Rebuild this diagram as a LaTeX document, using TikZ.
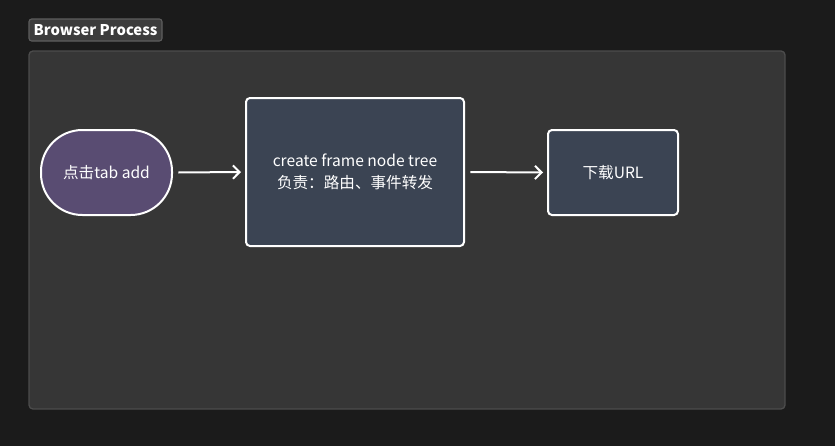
\documentclass[tikz,border=0pt]{standalone}
\usepackage{fontspec}
\setmainfont{Noto Sans CJK SC}
\usetikzlibrary{arrows.meta,positioning}
\definecolor{pagebg}{HTML}{1B1B1B}
\definecolor{panelbg}{HTML}{363636}
\definecolor{panelline}{HTML}{4C4C4C}
\definecolor{tagbg}{HTML}{3C3C3C}
\definecolor{tagline}{HTML}{5E5E5E}
\definecolor{startfill}{HTML}{594C72}
\definecolor{boxfill}{HTML}{3B4453}
\tikzset{
  px/.style={x=0.75pt,y=-0.75pt},
  nodetext/.style={text=white,font=\fontsize{11.7}{17}\selectfont,align=center},
  stepbox/.style={draw=white,line width=1.5pt,fill=boxfill,rounded corners=3pt,nodetext,inner sep=0pt},
  startbox/.style={draw=white,line width=1.5pt,fill=startfill,rounded corners=31pt,nodetext,inner sep=0pt},
  flow/.style={draw=white,line width=1.5pt,-{Straight Barb[length=5pt,width=10pt,line width=1.5pt]}}
}
\begin{document}
\begin{tikzpicture}[px]
\fill[pagebg] (0,0) rectangle (835,446);
\useasboundingbox (0,0) rectangle (835,446);
\draw[panelline,fill=panelbg,line width=1pt,rounded corners=3pt] (29,51) rectangle (785,409);
\node[draw=tagline,fill=tagbg,line width=0.8pt,rounded corners=2pt,minimum width=133*0.75pt,minimum height=22*0.75pt,inner sep=0pt,text=white,font=\fontsize{11.1}{12}\selectfont\bfseries] (tag) at (95.5,30) {Browser Process};
\node[startbox,minimum width=131*0.75pt,minimum height=85*0.75pt] (start) at (106.5,172.5) {点击tab add};
\node[stepbox,minimum width=218*0.75pt,minimum height=148*0.75pt] (create) at (355,172) {create frame node tree\\负责：路由、事件转发};
\node[stepbox,minimum width=130*0.75pt,minimum height=85*0.75pt] (down) at (613,172.5) {下载URL};
\draw[flow] ([xshift=4pt]start.east) -- ([xshift=-3pt]create.west);
\draw[flow] ([xshift=4pt]create.east) -- ([xshift=-3pt]down.west);
\end{tikzpicture}
\end{document}
